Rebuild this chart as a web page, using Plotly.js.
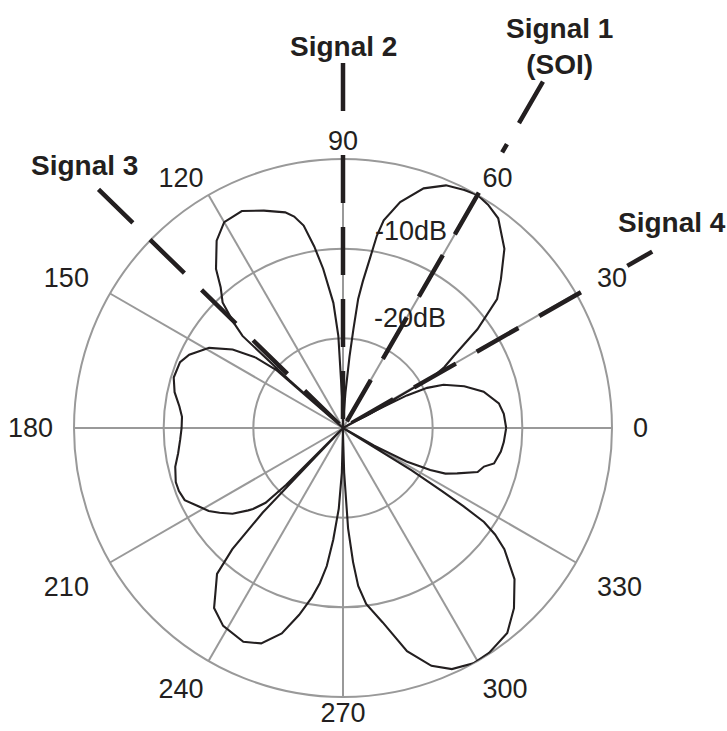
<!DOCTYPE html>
<html>
<head>
<meta charset="utf-8">
<script src="https://cdn.plot.ly/plotly-3.0.1.min.js"></script>
<style>html,body{margin:0;padding:0;background:#fff;}#chart{width:727px;height:731px;}</style>
</head>
<body>
<div id="chart"></div>
<script>
// ---- Data (angle in degrees, gain in dB) ----
const patternTheta = [0,5,9,14.5,19,23.3,25.5,27,28,28.5,29.2,29.7,31,33,36.3,39.9,43.3,48,53.5,57,60,63,67,71.4,75.8,78.9,80,81,82.3,83.3,84,84.8,86,88,90,91.5,92.9,94.4,97.1,99,101,103,105,110,115,120,124,128.6,131,133.8,136,137.5,138.2,138.5,139,141.1,144.6,149.1,154.5,158,163.4,168,172.5,176,180,184,188.7,193,197.9,201,204.5,208.6,211.7,214.5,217.8,221,222,224,225,225.8,226.5,227.6,229.2,231.7,234.4,238.8,245,249.2,253.4,256.8,259.6,261.5,263.3,265,267,268.5,269.5,270.5,271.5,272.9,274.3,275.5,277.5,281.5,286,290.4,294.3,299,303,308.7,313.5,318.6,323.1,325,326.3,327,327.5,328.3,329.5,330.5,332.2,334.3,336,338.3,341.9,344.7,346.8,351.5,355,360];
const patternDb    = [-11.8,-12.0,-12.4,-13.8,-15.7,-17.8,-19.6,-22.0,-26,-30,-24,-18.4,-16.8,-15.3,-11.4,-7.6,-5.8,-3.1,-0.9,-0.3,0,-0.2,-0.6,-1.8,-4.0,-6.4,-8.2,-10.9,-13.5,-15.5,-19,-22,-26,-29,-30,-27,-19.7,-16,-12.1,-9.5,-7.0,-5.8,-5.1,-4.2,-3.3,-3.5,-4.8,-7.3,-9.2,-10.6,-13,-14.8,-22,-30,-20.1,-17.5,-14.9,-12.6,-11.0,-10.4,-10.3,-10.8,-11.6,-12.0,-12.0,-11.8,-11.4,-10.8,-10.4,-10.4,-10.6,-11.7,-12.4,-13.3,-14.4,-16.0,-16.5,-18,-21,-30,-17,-11.7,-8.5,-7.1,-5.3,-4.2,-3.7,-4.3,-6.1,-8.6,-10.8,-12.5,-14.5,-17.5,-21,-25,-30,-29,-25,-18.8,-15,-12.3,-10.2,-7.9,-4.1,-1.7,-0.5,0,-0.1,-0.7,-2.3,-4.5,-7.5,-9.3,-11.1,-14,-17,-21,-30,-26,-22,-19.2,-17.5,-16.3,-14.2,-13.7,-12.7,-12.2,-12.0,-11.8];

const signalNames    = ['<b>Signal 1<br>(SOI)</b>', '<b>Signal 2</b>', '<b>Signal 3</b>', '<b>Signal 4</b>'];
const signalTheta    = [60, 90, 135.7, 29.7];
const signalOuterDb  = [14.6, 10.7, 8.1, 9.7];       // outer end of each direction line (beyond 0 dB rim)
const signalGapOutDb = [5.5, 4.0, null, 6.5];         // line interrupted where the angle label sits
const signalGapInDb  = [0.3, 0.45, null, 0.55];

const angleTicks  = [0,30,60,90,120,150,180,210,240,270,300,330];
const angleLabels = ['0','30','60','90','120','150','180','210','240','270','300','330'];
const ringValues  = [-20,-10];
const ringLabels  = ['-20dB','-10dB'];
const dbRange     = [-30, 0];
const outerRange  = [-30, 15];   // extended scale for the signal direction lines

// ---- Geometry (pixels) ----
const W = 727, H = 731;
const CX = 343, CY = 428, R = 269;            // main polar disc
const pxPerDb = R / (dbRange[1] - dbRange[0]);
const R2 = pxPerDb * (outerRange[1] - outerRange[0]);
const sector2 = [25, 140];
const c0 = Math.cos(sector2[1] * Math.PI / 180), c1 = Math.cos(sector2[0] * Math.PI / 180);

// ---- Traces ----
const ink = '#231f20';
const grid = '#999999';
const traces = [];
traces.push({
  type: 'scatterpolar', mode: 'lines', subplot: 'polar',
  r: patternDb, theta: patternTheta,
  line: {color: ink, width: 2.1}
});
signalTheta.forEach((th, i) => {
  let r;
  if (signalGapOutDb[i] === null) r = [signalOuterDb[i], dbRange[0]];
  else r = [signalOuterDb[i], signalGapOutDb[i], null, signalGapInDb[i], dbRange[0]];
  traces.push({
    type: 'scatterpolar', mode: 'lines', subplot: 'polar2',
    r: r, theta: r.map(() => th),
    connectgaps: false,
    line: {color: ink, width: 4.5, dash: '48px,24px'},
    hoverinfo: 'skip'
  });
});
// anchors so the label-only subplots are drawn
['polar3', 'polar4', 'polar5', 'polar6'].forEach(s => traces.push({
  type: 'scatterpolar', mode: 'markers', subplot: s, r: [dbRange[0]], theta: [0],
  marker: {opacity: 0, size: 1}, hoverinfo: 'skip'
}));

// ---- Layout ----
const px = (x, y) => ({x: x / W, y: 1 - y / H});
const ann = [];
const sigPos = [[559, 47], [343, 46], [84, 165], [672, 223]];
signalNames.forEach((t, i) => {
  const p = px(sigPos[i][0], sigPos[i][1]);
  ann.push({text: t, x: p.x, y: p.y, xref: 'paper', yref: 'paper', showarrow: false,
            xanchor: 'center', yanchor: 'middle', font: {size: 28, color: ink}});
});
const ringPos = [[410, 318], [411, 231]];
ringLabels.forEach((t, i) => {
  const p = px(ringPos[i][0], ringPos[i][1]);
  ann.push({text: t, x: p.x, y: p.y, xref: 'paper', yref: 'paper', showarrow: false,
            xanchor: 'center', yanchor: 'middle', font: {size: 27, color: ink}});
});

const domainFor = rad => ({x: [(CX - rad) / W, (CX + rad) / W], y: [(H - CY - rad) / H, (H - CY + rad) / H]});
const mainDomain = domainFor(R);
const hiddenRadial = {visible: false, range: dbRange};
const tickFont = {size: 27, color: ink};
const labelAxis = (vals, len) => ({
  rotation: 0, direction: 'counterclockwise',
  tickmode: 'array', tickvals: vals, ticktext: vals.map(v => angleLabels[angleTicks.indexOf(v)]),
  ticks: 'outside', ticklen: len, tickcolor: 'rgba(0,0,0,0)',
  tickfont: tickFont,
  showgrid: false, showline: false
});
const labelPolar = (dom, vals, len) => ({
  domain: dom, bgcolor: 'rgba(0,0,0,0)',
  angularaxis: labelAxis(vals, len),
  radialaxis: hiddenRadial
});

const layout = {
  width: W, height: H,
  margin: {l: 0, r: 0, t: 0, b: 0},
  paper_bgcolor: '#ffffff',
  showlegend: false,
  font: {family: 'Liberation Sans, Arial, sans-serif', color: ink},
  polar: {
    domain: mainDomain,
    bgcolor: '#ffffff',
    angularaxis: {
      rotation: 0, direction: 'counterclockwise',
      tickmode: 'array', tickvals: angleTicks,
      ticktext: angleLabels.map((t, i) => ([30, 150, 210, 330].includes(angleTicks[i]) ? t : '')),
      ticks: 'outside', ticklen: 18, tickcolor: 'rgba(0,0,0,0)',
      tickfont: tickFont,
      showgrid: true, gridcolor: grid, gridwidth: 2,
      showline: true, linecolor: grid, linewidth: 2,
      layer: 'below traces'
    },
    radialaxis: {
      range: dbRange, tickmode: 'array', tickvals: ringValues,
      showticklabels: false, ticks: '', showline: false,
      showgrid: true, gridcolor: grid, gridwidth: 2,
      layer: 'below traces'
    }
  },
  polar3: labelPolar(mainDomain, [0, 180], 15),
  polar4: labelPolar(domainFor(R - 3), [90], 1),
  polar6: labelPolar(domainFor(R - 9), [270], 1),
  polar5: labelPolar(mainDomain, [60, 120, 240, 300], 4),
  polar2: {   // same centre and dB scale, extended outwards for the signal lines
    domain: {x: [(CX + c0 * R2) / W, (CX + c1 * R2) / W], y: [(H - CY) / H, (H - CY + R2) / H]},
    sector: sector2,
    bgcolor: 'rgba(0,0,0,0)',
    angularaxis: {visible: false, rotation: 0, direction: 'counterclockwise', showgrid: false, showline: false},
    radialaxis: {visible: false, range: outerRange, showgrid: false}
  },
  annotations: ann
};

Plotly.newPlot('chart', traces, layout, {displayModeBar: false, staticPlot: true});
</script>
</body>
</html>
